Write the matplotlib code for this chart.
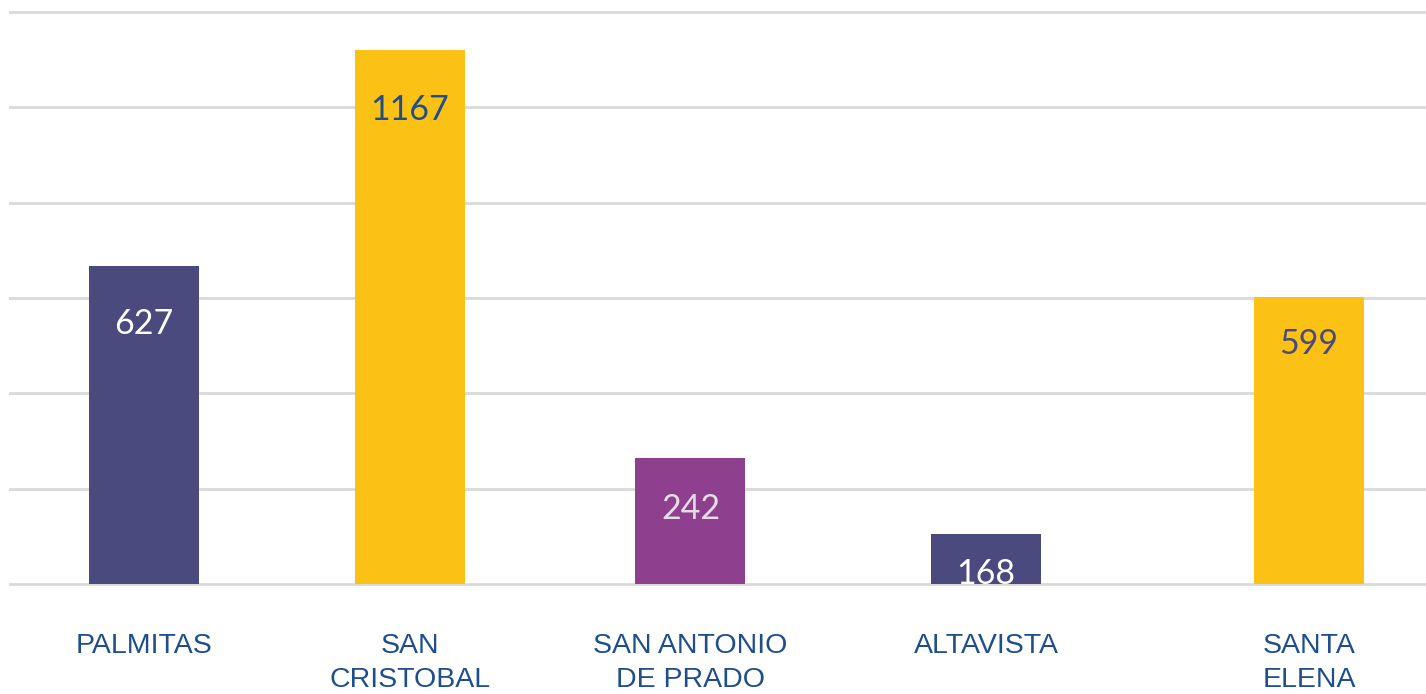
import matplotlib
matplotlib.use("Agg")
import matplotlib.pyplot as plt

# Data
categories = ["PALMITAS", "SAN\nCRISTOBAL", "SAN ANTONIO\nDE PRADO", "ALTAVISTA", "SANTA\nELENA"]
bar_heights = [667, 1120, 264, 105, 602]          # bar heights as drawn (grid step 200)
value_labels = ["627", "1167", "242", "168", "599"]  # printed data labels
positions = [1.218, 3.636, 6.186, 8.873, 11.809]     # category centres (irregular spacing)

bar_colors = ["#4B4A7F", "#FBC115", "#8E3F8E", "#4B4A7F", "#FBC115"]
label_colors = ["#FFFFFF", "#1F4E8C", "#E6DDE6", "#FFFFFF", "#4B4A7F"]
label_offsets_px = [58, 60, 51, 40, 47]

W, H = 1426, 694
fig = plt.figure(figsize=(W / 100, H / 100), dpi=100)
ax = fig.add_axes([10 / W, 1 - 584 / H, (W - 10) / W, (584 - 12) / H])

ax.set_xlim(0, (W - 10) / 110)
ax.set_ylim(0, 1200)
ax.set_yticks(range(0, 1201, 200))
ax.yaxis.grid(True, color="#D9D9D9", linewidth=2.0)
for gl in ax.get_ygridlines():
    gl.set_clip_on(False)
ax.set_axisbelow(True)
for s in ax.spines.values():
    s.set_visible(False)
ax.tick_params(axis="y", left=False, labelleft=False)
ax.tick_params(axis="x", bottom=False)

bars = ax.bar(positions, bar_heights, width=1.0, color=bar_colors, zorder=2)

px_per_unit = (584 - 12) / 1200.0
for b, txt, c, off in zip(bars, value_labels, label_colors, label_offsets_px):
    y = b.get_height() - off / px_per_unit
    ax.text(b.get_x() + b.get_width() / 2, y, txt, ha="center", va="center",
            fontsize=24.5, color=c, family=["Lato", "DejaVu Sans"], zorder=3)

ax.set_xticks(positions)
ax.set_xticklabels(categories, fontsize=20.5, color="#1F4E8C",
                   family=["Liberation Sans", "DejaVu Sans"], linespacing=1.4)
ax.tick_params(axis="x", pad=32)

fig.savefig("out.png", dpi=100)
